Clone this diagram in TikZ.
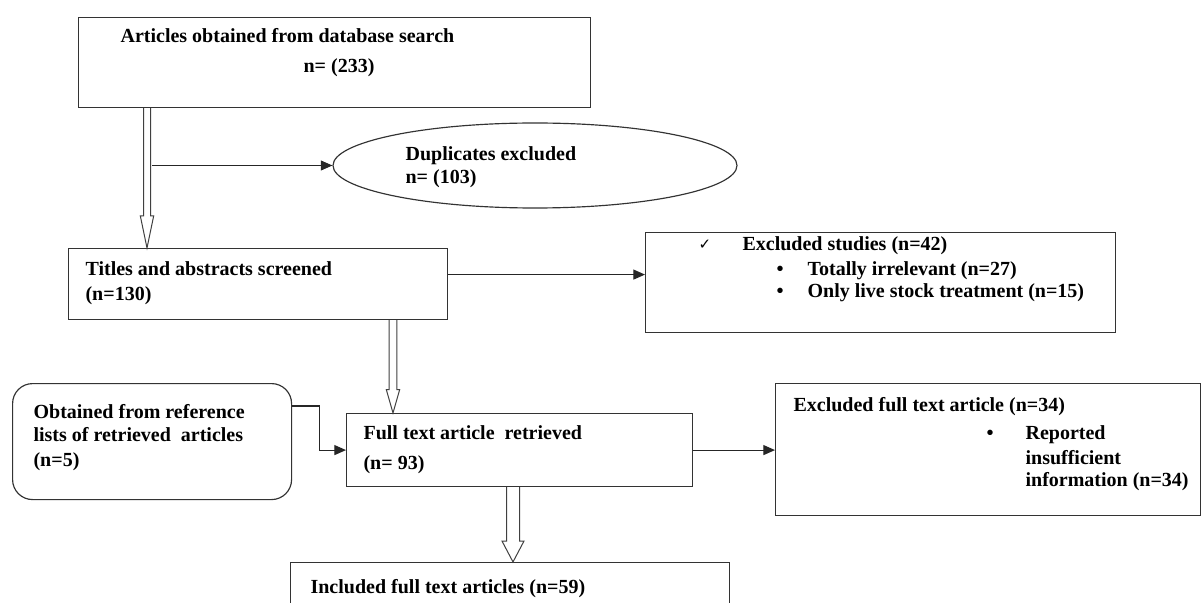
\documentclass[tikz,border=0pt]{standalone}
\usepackage{fontspec}
\setmainfont{Liberation Serif}
\newfontfamily\symfont{DejaVu Sans}
\usetikzlibrary{shapes.geometric,arrows.meta,calc}
\newcommand\hollowarrow[5]{%
  \draw[hollow] let \p1=(#1), \p2=(#2) in
    (\x1-#3,\y1) -- (\x1-#3,\y2+#5) -- (\x1-#4,\y2+#5) -- (\x1,\y2)
    -- (\x1+#4,\y2+#5) -- (\x1+#3,\y2+#5) -- (\x1+#3,\y1);}
\begin{document}
\begin{tikzpicture}[x=0.6pt,y=-0.6pt,
  line width=0.7pt,
  box/.style={draw=black!80, rectangle, inner sep=0pt, anchor=north west},
  lbl/.style={anchor=base west, inner sep=0pt, font=\bfseries\fontsize{12}{14.4}\selectfont},
  conn/.style={draw=black!85, line width=0.7pt, -{Triangle[length=7pt,width=6pt]}},
  hollow/.style={draw=black!75, fill=white, line width=0.6pt, line join=miter}]
\useasboundingbox (0,0) rectangle (1204,603);
\clip (0,0) rectangle (1204,603);

% boxes
\node[box, minimum width=307.2pt, minimum height=54pt] (b1) at (78,17) {};
\node[draw=black!80, ellipse, inner sep=0pt, minimum width=242.4pt, minimum height=51pt] (dup) at (535,165.5) {};
\node[box, minimum width=227.4pt, minimum height=42.6pt] (ta) at (68,248) {};
\node[box, minimum width=282pt, minimum height=60pt] (ex) at (645,232) {};
\node[box, rounded corners=12pt, minimum width=167.4pt, minimum height=69.6pt] (ref) at (12,383) {};
\node[box, minimum width=207.6pt, minimum height=43.8pt] (ft) at (346,413) {};
\node[box, minimum width=255pt, minimum height=79.2pt] (exf) at (775,383) {};
\node[box, minimum width=263.4pt, minimum height=36pt] (inc) at (290,562) {};

% texts
\node[lbl] (t1a) at (120,43) {Articles obtained from database search};
\node[lbl] (t1b) at (303,73) {n= (233)};
\node[lbl] (tda) at (405,161) {Duplicates excluded};
\node[lbl] (tdb) at (405,184) {n= (103)};
\node[lbl] (tta) at (85,276) {Titles and abstracts screened};
\node[lbl] (ttb) at (85,301) {(n=130)};
\node[lbl, font=\symfont\fontsize{9}{10}\selectfont] (chk) at (698,250) {✓};
\node[lbl] (tea) at (742,251) {Excluded studies (n=42)};
\node[lbl] (bu1) at (776,276) {•};
\node[lbl] (teb) at (807,276) {Totally irrelevant (n=27)};
\node[lbl] (bu2) at (776,298) {•};
\node[lbl] (tec) at (807,298) {Only live stock treatment (n=15)};
\node[lbl] (tra) at (33,418) {Obtained from reference};
\node[lbl] (trb) at (33,441) {lists of retrieved\ \ articles};
\node[lbl] (trc) at (33,466) {(n=5)};
\node[lbl] (tfa) at (363,439) {Full text article\ \ retrieved};
\node[lbl] (tfb) at (363,469) {(n= 93)};
\node[lbl] (txa) at (793,411) {Excluded full text article (n=34)};
\node[lbl] (bu3) at (986,439) {•};
\node[lbl] (txb) at (1025,439) {Reported};
\node[lbl] (txc) at (1025,464) {insufficient};
\node[lbl] (txd) at (1025,486) {information (n=34)};
\node[lbl] (tin) at (310,593) {Included full text articles (n=59)};

% connectors
\coordinate (a1s) at ($(b1.south west)+(69,0)$);
\hollowarrow{a1s}{a1s |- ta.north}{2.1pt}{4pt}{19.2pt}
\coordinate (d0) at ($(a1s |- dup.west)+(5,0)$);
\draw[conn] (d0) -- (dup.west);

\coordinate (t0) at ($(ta.east)+(0,-9.5)$);
\draw[conn] (t0) -- (t0 -| ex.west);

\coordinate (a2s) at ($(ta.south west)+(325,0)$);
\hollowarrow{a2s}{a2s |- ft.north}{2.3pt}{4pt}{14pt}

\coordinate (r0) at ($(ref.north east)+(0,23)$);
\draw[conn] (r0) -- ++(27,0) |- (ft.west);

\draw[conn] (ft.east) -- (ft.east -| exf.west);

\coordinate (a3s) at ($(ft.south west)+(167,0)$);
\hollowarrow{a3s}{a3s |- inc.north}{3.9pt}{6.6pt}{12.6pt}
\end{tikzpicture}
\end{document}
